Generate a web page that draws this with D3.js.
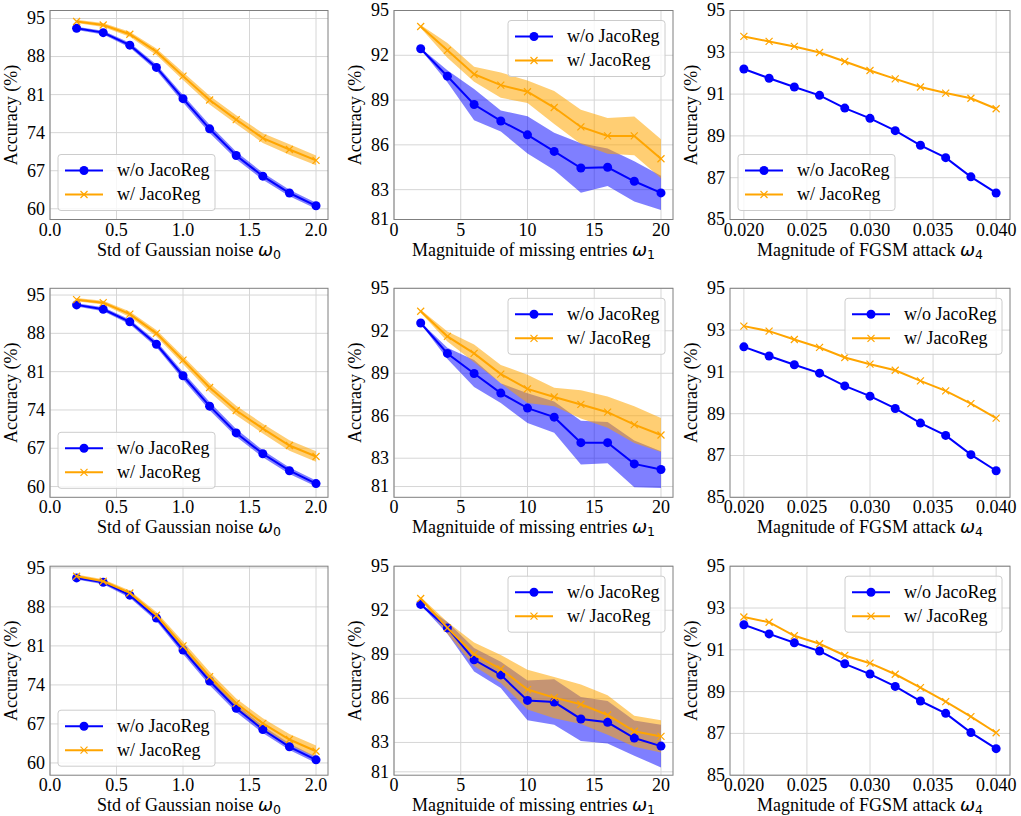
<!DOCTYPE html>
<html>
<head>
<meta charset="utf-8">
<script src="https://cdn.jsdelivr.net/npm/d3@7"></script>
<style>
  body { margin: 0; background: #fff; }
  svg text { font-family: "Liberation Serif", "DejaVu Serif", "Times New Roman", serif; }
</style>
</head>
<body>
<div id="chart"></div>
<script>
// ── Data ───────────────────────────────────────────────
const gaussX = [0.2, 0.4, 0.6, 0.8, 1.0, 1.2, 1.4, 1.6, 1.8, 2.0];
const missX = [2, 4, 6, 8, 10, 12, 14, 16, 18, 20];
const fgsmX = [0.020, 0.022, 0.024, 0.026, 0.028, 0.030, 0.032, 0.034, 0.036, 0.038, 0.040];

// Gaussian noise (column 1): baseline is the same in every row
const gaussBase = [93.2, 92.4, 90.1, 86.0, 80.25, 74.7, 69.8, 66.0, 62.9, 60.55];
const gaussBaseStd = [0.3, 0.35, 0.45, 0.55, 0.7, 0.75, 0.7, 0.65, 0.6, 0.55];
const gaussJacoA = [94.45, 93.8, 92.1, 88.9, 84.4, 80.0, 76.4, 73.0, 70.9, 68.9];
const gaussJacoStdA = [0.3, 0.35, 0.45, 0.6, 0.7, 0.8, 0.8, 0.9, 0.95, 0.9];
const gaussJacoB = [94.15, 93.6, 91.5, 88.0, 83.1, 78.1, 73.9, 70.6, 67.5, 65.5];
const gaussJacoStdB = [0.3, 0.35, 0.5, 0.6, 0.7, 0.8, 0.85, 0.9, 0.95, 0.95];
const gaussJacoC = [93.5, 92.6, 90.5, 86.5, 81.0, 75.5, 70.7, 67.1, 64.2, 62.1];
const gaussJacoStdC = [0.3, 0.35, 0.45, 0.6, 0.8, 0.85, 0.85, 0.9, 1.0, 1.05];

// Missing entries (column 2)
const missBaseA = [92.44, 90.6, 88.7, 87.6, 86.67, 85.56, 84.45, 84.5, 83.56, 82.78];
const missBaseStdA = [0.05, 0.4, 1.05, 0.7, 1.25, 1.25, 1.65, 1.25, 1.35, 1.15];
const missJacoA = [93.93, 92.33, 90.73, 90.0, 89.56, 88.5, 87.2, 86.6, 86.6, 85.07];
const missJacoStdA = [0.1, 0.5, 0.5, 0.85, 0.75, 1.1, 1.15, 1.2, 1.3, 1.3];
const missBaseB = [92.55, 90.4, 88.98, 87.6, 86.54, 85.9, 84.1, 84.1, 82.6, 82.2];
const missBaseStdB = [0.05, 0.4, 0.95, 0.7, 1.05, 1.1, 1.55, 1.45, 1.65, 1.3];
const missJacoB = [93.38, 91.6, 90.4, 88.94, 87.9, 87.32, 86.8, 86.25, 85.37, 84.64];
const missJacoStdB = [0.1, 0.35, 0.63, 0.65, 1.0, 0.65, 1.0, 1.1, 1.3, 1.2];
const missBaseC = [92.4, 90.8, 88.63, 87.6, 85.86, 85.75, 84.6, 84.37, 83.3, 82.75];
const missBaseStdC = [0.05, 0.4, 0.8, 0.9, 1.35, 1.55, 1.5, 1.45, 1.2, 1.45];
const missJacoC = [92.8, 90.8, 89.0, 88.0, 86.6, 86.05, 85.6, 84.87, 83.76, 83.41];
const missJacoStdC = [0.1, 0.4, 0.8, 0.95, 1.35, 1.4, 1.35, 1.35, 1.05, 1.1];

// FGSM attack (column 3): no visible spread
const fgsmBase = [92.2, 91.76, 91.34, 90.94, 90.33, 89.84, 89.25, 88.55, 87.96, 87.04, 86.27];
const fgsmJacoA = [93.76, 93.52, 93.28, 92.99, 92.56, 92.13, 91.73, 91.34, 91.05, 90.8, 90.3];
const fgsmJacoB = [93.19, 92.95, 92.55, 92.17, 91.69, 91.37, 91.08, 90.57, 90.09, 89.48, 88.79];
const fgsmJacoC = [92.57, 92.32, 91.67, 91.29, 90.73, 90.36, 89.83, 89.19, 88.52, 87.8, 87.03];

// Ticks
const gaussXTicks = [0, 0.5, 1.0, 1.5, 2.0];
const missXTicks = [0, 5, 10, 15, 20];
const fgsmXTicks = [0.020, 0.025, 0.030, 0.035, 0.040];
const gaussYTicks = [60, 67, 74, 81, 88, 95];
const missYTicks = [81, 83, 86, 89, 92, 95];
const fgsmYTicks = [85, 87, 89, 91, 93, 95];

const seriesNames = ['w/o JacoReg', 'w/ JacoReg'];

// ── Layout ─────────────────────────────────────────────
const W = 1021, H = 816;
const colLeft = [50, 394, 730];
const colWidth = [278, 279, 280];
const rowTop = [10.5, 288.3, 566.2];
const plotH = 209;

const BLUE = '#0000ff';
const ORANGE = '#ffa500';
const SERIF = '"Liberation Serif", "DejaVu Serif", "Times New Roman", serif';
const MATH = '"DejaVu Sans", sans-serif';

const xKinds = {
    gauss: { x: gaussX, ticks: gaussXTicks, dom: [0, 2.09], fmt: d3.format('.1f'), label: 'Std of Gaussian noise ', sym: '0' },
    miss: { x: missX, ticks: missXTicks, dom: [0, 20.9], fmt: d3.format('d'), label: 'Magnituide of missing entries ', sym: '1' },
    fgsm: { x: fgsmX, ticks: fgsmXTicks, dom: [0.0189, 0.0411], fmt: d3.format('.3f'), label: 'Magnitude of FGSM attack ', sym: '4' }
};

const panels = [
    { row: 0, col: 0, kind: 'gauss', yDom: [58.03, 96.47], yTicks: gaussYTicks, base: gaussBase, baseStd: gaussBaseStd, jaco: gaussJacoA, jacoStd: gaussJacoStdA, legend: 'll' },
    { row: 0, col: 1, kind: 'miss', yDom: [81, 95], yTicks: missYTicks, base: missBaseA, baseStd: missBaseStdA, jaco: missJacoA, jacoStd: missJacoStdA, legend: 'ur' },
    { row: 0, col: 2, kind: 'fgsm', yDom: [85, 95], yTicks: fgsmYTicks, base: fgsmBase, baseStd: null, jaco: fgsmJacoA, jacoStd: null, legend: 'll' },
    { row: 1, col: 0, kind: 'gauss', yDom: [58.04, 96.23], yTicks: gaussYTicks, base: gaussBase, baseStd: gaussBaseStd, jaco: gaussJacoB, jacoStd: gaussJacoStdB, legend: 'll' },
    { row: 1, col: 1, kind: 'miss', yDom: [80.24, 95], yTicks: missYTicks, base: missBaseB, baseStd: missBaseStdB, jaco: missJacoB, jacoStd: missJacoStdB, legend: 'ur' },
    { row: 1, col: 2, kind: 'fgsm', yDom: [85, 95], yTicks: fgsmYTicks, base: fgsmBase, baseStd: null, jaco: fgsmJacoB, jacoStd: null, legend: 'ur' },
    { row: 2, col: 0, kind: 'gauss', yDom: [57.8, 95.3], yTicks: gaussYTicks, base: gaussBase, baseStd: gaussBaseStd, jaco: gaussJacoC, jacoStd: gaussJacoStdC, legend: 'll' },
    { row: 2, col: 1, kind: 'miss', yDom: [80.77, 95], yTicks: missYTicks, base: missBaseC, baseStd: missBaseStdC, jaco: missJacoC, jacoStd: missJacoStdC, legend: 'ur' },
    { row: 2, col: 2, kind: 'fgsm', yDom: [85, 95], yTicks: fgsmYTicks, base: fgsmBase, baseStd: null, jaco: fgsmJacoC, jacoStd: null, legend: 'ur' }
];

const svg = d3.select('#chart')
    .append('svg')
    .attr('width', W)
    .attr('height', H);

svg.append('rect').attr('width', W).attr('height', H).attr('fill', '#fff');

panels.forEach((p, i) => drawPanel(p, i));

function drawPanel(p, i) {
    const k = xKinds[p.kind];
    const w = colWidth[p.col];
    const h = plotH;
    const g = svg.append('g')
        .attr('transform', `translate(${colLeft[p.col]},${rowTop[p.row]})`);

    const x = d3.scaleLinear().domain(k.dom).range([0, w]);
    const y = d3.scaleLinear().domain(p.yDom).range([h, 0]);

    const clipId = 'clip' + i;
    g.append('clipPath').attr('id', clipId)
        .append('rect').attr('width', w).attr('height', h);

    // Grid
    const grid = g.append('g').attr('stroke', '#d6d6d6').attr('stroke-width', 1);
    grid.selectAll('.gx').data(k.ticks).join('line')
        .attr('x1', d => x(d)).attr('x2', d => x(d))
        .attr('y1', 0).attr('y2', h);
    grid.selectAll('.gy').data(p.yTicks).join('line')
        .attr('x1', 0).attr('x2', w)
        .attr('y1', d => y(d)).attr('y2', d => y(d));

    const plot = g.append('g').attr('clip-path', `url(#${clipId})`);

    // Bands (mean ± std)
    const band = (mean, std) => d3.area()
        .x((d, j) => x(k.x[j]))
        .y0((d, j) => y(mean[j] - std[j]))
        .y1((d, j) => y(mean[j] + std[j]))(mean);

    if (p.baseStd) {
        plot.append('path').attr('d', band(p.base, p.baseStd))
            .attr('fill', BLUE).attr('fill-opacity', 0.5);
    }
    if (p.jacoStd) {
        plot.append('path').attr('d', band(p.jaco, p.jacoStd))
            .attr('fill', ORANGE).attr('fill-opacity', 0.55);
    }

    const line = d3.line().x((d, j) => x(k.x[j])).y(d => y(d));

    // Baseline series
    plot.append('path').attr('d', line(p.base))
        .attr('fill', 'none').attr('stroke', BLUE).attr('stroke-width', 2);
    plot.selectAll('.dot').data(p.base).join('circle')
        .attr('cx', (d, j) => x(k.x[j])).attr('cy', d => y(d))
        .attr('r', 4.5).attr('fill', BLUE);

    // JacoReg series
    plot.append('path').attr('d', line(p.jaco))
        .attr('fill', 'none').attr('stroke', ORANGE).attr('stroke-width', 2);
    plot.selectAll('.xm').data(p.jaco).join('path')
        .attr('d', (d, j) => xMarker(x(k.x[j]), y(d), 3.5))
        .attr('stroke', ORANGE).attr('stroke-width', 1.2).attr('fill', 'none');

    // Spines
    g.append('rect').attr('width', w).attr('height', h)
        .attr('fill', 'none').attr('stroke', '#7f7f7f').attr('stroke-width', 1);

    // Tick labels (no tick marks, as in the whitegrid style)
    g.append('g').selectAll('text').data(k.ticks).join('text')
        .attr('x', d => x(d)).attr('y', h + 16)
        .attr('text-anchor', 'middle')
        .attr('font-family', SERIF)
        .attr('font-size', '18px').attr('fill', '#000')
        .text(d => k.fmt(d));

    g.append('g').selectAll('text').data(p.yTicks).join('text')
        .attr('x', -5).attr('y', d => y(d))
        .attr('dy', '0.33em')
        .attr('text-anchor', 'end')
        .attr('font-family', SERIF)
        .attr('font-size', '18px').attr('fill', '#000')
        .text(d => d);

    // Axis labels
    const xl = g.append('text')
        .attr('x', w / 2).attr('y', h + 36)
        .attr('text-anchor', 'middle')
        .attr('font-family', SERIF)
        .attr('font-size', '18px').attr('fill', '#000');
    xl.append('tspan').text(k.label);
    xl.append('tspan')
        .attr('font-family', MATH)
        .attr('font-style', 'oblique')
        .attr('font-size', '18px')
        .text('\u03c9');
    xl.append('tspan')
        .attr('font-family', MATH)
        .attr('font-size', '12.5px')
        .attr('dy', 3)
        .text(k.sym);

    g.append('text')
        .attr('transform', `translate(-33,${h / 2}) rotate(-90)`)
        .attr('text-anchor', 'middle')
        .attr('font-family', SERIF)
        .attr('font-size', '18px').attr('fill', '#000')
        .text('Accuracy (%)');

    // Legend
    const lw = 157, lh = 56;
    const lx = p.legend === 'll' ? 8 : w - 8 - lw;
    const ly = p.legend === 'll' ? h - 9 - lh : 10;
    const leg = g.append('g').attr('transform', `translate(${lx},${ly})`);
    leg.append('rect').attr('width', lw).attr('height', lh)
        .attr('rx', 3).attr('fill', '#fff').attr('fill-opacity', 0.8)
        .attr('stroke', '#cccccc').attr('stroke-width', 1);

    [BLUE, ORANGE].forEach((c, j) => {
        const ry = 16 + j * 24;
        leg.append('line')
            .attr('x1', 7).attr('x2', 45).attr('y1', ry).attr('y2', ry)
            .attr('stroke', c).attr('stroke-width', 2);
        if (j === 0) {
            leg.append('circle').attr('cx', 26).attr('cy', ry).attr('r', 4.5).attr('fill', c);
        } else {
            leg.append('path').attr('d', xMarker(26, ry, 3.5))
                .attr('stroke', c).attr('stroke-width', 1.2);
        }
        leg.append('text')
            .attr('x', 59).attr('y', ry).attr('dy', '0.33em')
            .attr('font-family', SERIF)
            .attr('font-size', '18px').attr('fill', '#000')
            .text(seriesNames[j]);
    });
}

function xMarker(cx, cy, s) {
    return `M${cx - s},${cy - s}L${cx + s},${cy + s}M${cx - s},${cy + s}L${cx + s},${cy - s}`;
}
</script>
</body>
</html>
